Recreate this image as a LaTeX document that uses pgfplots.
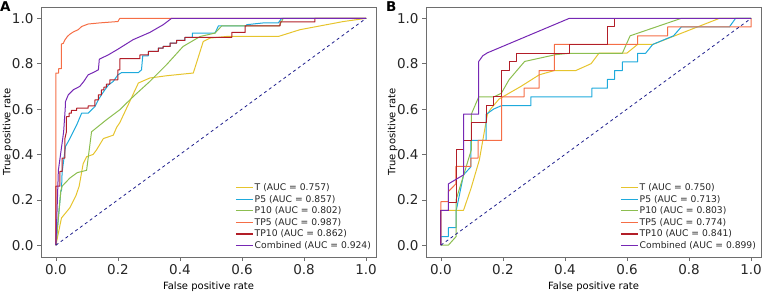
\documentclass[border=0pt]{standalone}
\usepackage{fontspec}
\setmainfont{DejaVu Sans}
\usepackage{pgfplots}
\pgfplotsset{compat=1.18}
\definecolor{cT}{RGB}{230,196,45}
\definecolor{cP5}{RGB}{30,170,220}
\definecolor{cP10}{RGB}{140,190,80}
\definecolor{cTP5}{RGB}{245,110,70}
\definecolor{cTP10}{RGB}{178,30,40}
\definecolor{cC}{RGB}{118,40,180}
\definecolor{cD}{RGB}{30,30,140}
\definecolor{frame}{RGB}{110,110,110}
\pgfplotsset{
  rocax/.style={
    scale only axis, width=335pt, height=250pt,
    xmin=-0.048, xmax=1.032, ymin=-0.052, ymax=1.05,
    xtick={0,0.2,0.4,0.6,0.8,1.0}, ytick={0,0.2,0.4,0.6,0.8,1.0},
    xtick pos=bottom, ytick pos=left, tick align=outside,
    major tick length=4pt,
    tick style={draw=frame, line width=0.6pt},
    axis line style={draw=frame, line width=0.6pt},
    /pgf/number format/.cd, fixed, fixed zerofill, precision=1, assume math mode=true,
    /pgfplots/.cd,
    tick label style={font=\fontsize{13.5}{15}\selectfont, text=black!85},
    label style={font=\fontsize{13}{15}\selectfont, text=black!85},
    every axis y label/.style={at={(axis description cs:-0.1,0.5)}, rotate=90, anchor=center},
    every axis x label/.style={at={(axis description cs:0.5,-0.118)}, anchor=center},
    xlabel={False positive rate}, ylabel={True positive rate},
    legend cell align=left,
    legend style={at={(0.998,0.015)}, anchor=south east, draw=none, fill=none,
      font=\fontsize{9.2}{10}\selectfont, row sep=0.7pt,
      nodes={inner sep=1.2pt, text=black!85}},
    legend image code/.code={\draw[##1, line width=1.2pt] (0pt,0pt) -- (17pt,0pt);},
    every axis plot/.append style={line width=1pt, line join=round},
  }
}
\begin{document}
\begin{tikzpicture}
\path[use as bounding box] (0,0) rectangle (771pt,292pt);
\node[anchor=north west, inner sep=0pt, font=\fontsize{13.5}{14}\selectfont\bfseries] at (0pt,291pt) {A};
\node[anchor=north west, inner sep=0pt, font=\fontsize{13.5}{14}\selectfont\bfseries] at (386pt,291pt) {B};
% ---------------- Panel A ----------------
\begin{axis}[rocax, at={(41pt,35pt)}, anchor=south west]
\addplot[cT] coordinates {(0,0) (0.018,0.12) (0.045,0.165) (0.065,0.22) (0.075,0.26) (0.088,0.36) (0.099,0.39) (0.12,0.40) (0.131,0.42) (0.153,0.47) (0.185,0.485) (0.196,0.52) (0.206,0.54) (0.266,0.715) (0.303,0.737) (0.357,0.747) (0.443,0.759) (0.47,0.876) (0.475,0.898) (0.497,0.913) (0.55,0.92) (0.717,0.92) (0.787,0.95) (0.927,0.986) (1,1)};
\addlegendentry{T (AUC = 0.757)}
\addplot[cP5] coordinates {(0,0) (0.016,0.24) (0.018,0.24) (0.02,0.32) (0.031,0.435) (0.045,0.47) (0.067,0.53) (0.083,0.582) (0.104,0.582) (0.115,0.597) (0.126,0.611) (0.137,0.641) (0.147,0.663) (0.158,0.685) (0.17,0.707) (0.185,0.722) (0.2,0.751) (0.212,0.761) (0.266,0.761) (0.276,0.773) (0.28,0.835) (0.298,0.835) (0.298,0.854) (0.33,0.854) (0.33,0.869) (0.346,0.869) (0.346,0.876) (0.368,0.876) (0.368,0.891) (0.389,0.891) (0.389,0.903) (0.416,0.903) (0.416,0.916) (0.44,0.916) (0.44,0.935) (0.513,0.935) (0.524,0.967) (0.615,0.967) (0.615,0.972) (0.67,0.98) (0.717,0.98) (0.728,1) (1,1)};
\addlegendentry{P5 (AUC = 0.857)}
\addplot[cP10] coordinates {(0,0) (0.016,0.24) (0.02,0.26) (0.045,0.296) (0.069,0.32) (0.099,0.33) (0.115,0.50) (0.163,0.553) (0.206,0.597) (0.25,0.656) (0.303,0.722) (0.357,0.796) (0.41,0.876) (0.465,0.92) (0.513,0.935) (0.535,0.967) (0.72,0.967) (0.733,1) (1,1)};
\addlegendentry{P10 (AUC = 0.802)}
\addplot[cTP5] coordinates {(0,0) (0,0.759) (0.009,0.759) (0.009,0.778) (0.018,0.778) (0.018,0.887) (0.024,0.89) (0.029,0.905) (0.037,0.92) (0.045,0.93) (0.056,0.94) (0.072,0.95) (0.083,0.964) (0.104,0.975) (0.142,0.98) (0.2,0.986) (0.206,1) (1,1)};
\addlegendentry{TP5 (AUC = 0.987)}
\addplot[cTP10] coordinates {(0,0) (0,0.26) (0.013,0.26) (0.013,0.325) (0.02,0.325) (0.02,0.384) (0.029,0.384) (0.029,0.47) (0.034,0.5) (0.034,0.567) (0.043,0.567) (0.043,0.582) (0.05,0.582) (0.05,0.594) (0.067,0.594) (0.067,0.604) (0.104,0.604) (0.104,0.614) (0.126,0.614) (0.126,0.641) (0.137,0.641) (0.137,0.663) (0.147,0.663) (0.147,0.685) (0.155,0.685) (0.155,0.697) (0.163,0.697) (0.163,0.71) (0.174,0.71) (0.174,0.729) (0.2,0.729) (0.2,0.773) (0.206,0.773) (0.206,0.822) (0.271,0.822) (0.271,0.839) (0.298,0.839) (0.298,0.854) (0.33,0.854) (0.33,0.869) (0.346,0.869) (0.346,0.876) (0.368,0.876) (0.368,0.891) (0.389,0.891) (0.389,0.903) (0.416,0.903) (0.416,0.916) (0.567,0.916) (0.567,0.938) (0.61,0.938) (0.61,0.967) (0.723,0.967) (0.723,0.984) (0.835,0.984) (0.835,1) (1,1)};
\addlegendentry{TP10 (AUC = 0.862)}
\addplot[cC] coordinates {(0,0) (0.008,0.33) (0.015,0.4) (0.025,0.5) (0.03,0.6) (0.031,0.633) (0.04,0.663) (0.056,0.685) (0.077,0.70) (0.09,0.722) (0.104,0.751) (0.12,0.761) (0.137,0.773) (0.14,0.82) (0.169,0.839) (0.2,0.864) (0.249,0.906) (0.303,0.938) (0.346,0.972) (0.373,1) (1,1)};
\addlegendentry{Combined (AUC = 0.924)}
\addplot[cD, dashed, line width=0.8pt, forget plot] coordinates {(0,0) (1,1)};
\end{axis}
% ---------------- Panel B ----------------
\begin{axis}[rocax, at={(426pt,35pt)}, anchor=south west]
\addplot[cT] coordinates {(0,0) (0,0.154) (0.073,0.154) (0.097,0.25) (0.124,0.376) (0.14,0.5) (0.15,0.577) (0.16,0.6) (0.188,0.645) (0.258,0.7) (0.317,0.751) (0.366,0.77) (0.435,0.77) (0.484,0.8) (0.51,0.847) (0.6,0.847) (0.634,0.885) (0.683,0.885) (0.898,1) (1,1)};
\addlegendentry{T (AUC = 0.750)}
\addplot[cP5] coordinates {(0,0) (0,0.038) (0.024,0.038) (0.024,0.077) (0.049,0.077) (0.049,0.15) (0.073,0.31) (0.097,0.346) (0.097,0.462) (0.146,0.462) (0.146,0.577) (0.17,0.6) (0.195,0.615) (0.29,0.615) (0.29,0.654) (0.487,0.654) (0.487,0.692) (0.537,0.692) (0.537,0.731) (0.56,0.731) (0.56,0.77) (0.585,0.77) (0.585,0.808) (0.634,0.808) (0.634,0.846) (0.66,0.846) (0.683,0.885) (0.75,0.923) (0.775,0.962) (0.93,0.962) (0.95,1) (1,1)};
\addlegendentry{P5 (AUC = 0.713)}
\addplot[cP10] coordinates {(0,0) (0.024,0) (0.049,0.038) (0.049,0.2) (0.098,0.42) (0.098,0.577) (0.122,0.654) (0.171,0.654) (0.195,0.67) (0.22,0.73) (0.27,0.81) (0.37,0.84) (0.414,0.846) (0.585,0.846) (0.61,0.923) (0.775,1) (1,1)};
\addlegendentry{P10 (AUC = 0.803)}
\addplot[cTP5] coordinates {(0,0) (0,0.192) (0.024,0.192) (0.024,0.236) (0.048,0.27) (0.048,0.347) (0.097,0.347) (0.097,0.384) (0.12,0.384) (0.12,0.462) (0.196,0.462) (0.196,0.654) (0.268,0.654) (0.268,0.692) (0.317,0.692) (0.317,0.77) (0.366,0.77) (0.366,0.885) (0.634,0.885) (0.634,0.923) (0.731,0.923) (0.731,0.962) (1,0.962) (1,1)};
\addlegendentry{TP5 (AUC = 0.774)}
\addplot[cTP10] coordinates {(0,0) (0,0.154) (0.024,0.154) (0.024,0.19) (0.049,0.19) (0.049,0.42) (0.073,0.42) (0.073,0.46) (0.098,0.46) (0.098,0.54) (0.146,0.54) (0.146,0.615) (0.171,0.615) (0.171,0.654) (0.196,0.654) (0.196,0.77) (0.22,0.77) (0.22,0.808) (0.244,0.808) (0.244,0.846) (0.414,0.846) (0.414,0.885) (0.537,0.885) (0.537,0.962) (0.56,0.962) (0.56,1) (1,1)};
\addlegendentry{TP10 (AUC = 0.841)}
\addplot[cC] coordinates {(0,0) (0,0.154) (0.024,0.154) (0.024,0.27) (0.073,0.31) (0.073,0.578) (0.122,0.578) (0.122,0.81) (0.135,0.835) (0.15,0.848) (0.414,1) (1,1)};
\addlegendentry{Combined (AUC = 0.899)}
\addplot[cD, dashed, line width=0.8pt, forget plot] coordinates {(0,0) (1,1)};
\end{axis}
\end{tikzpicture}
\end{document}
